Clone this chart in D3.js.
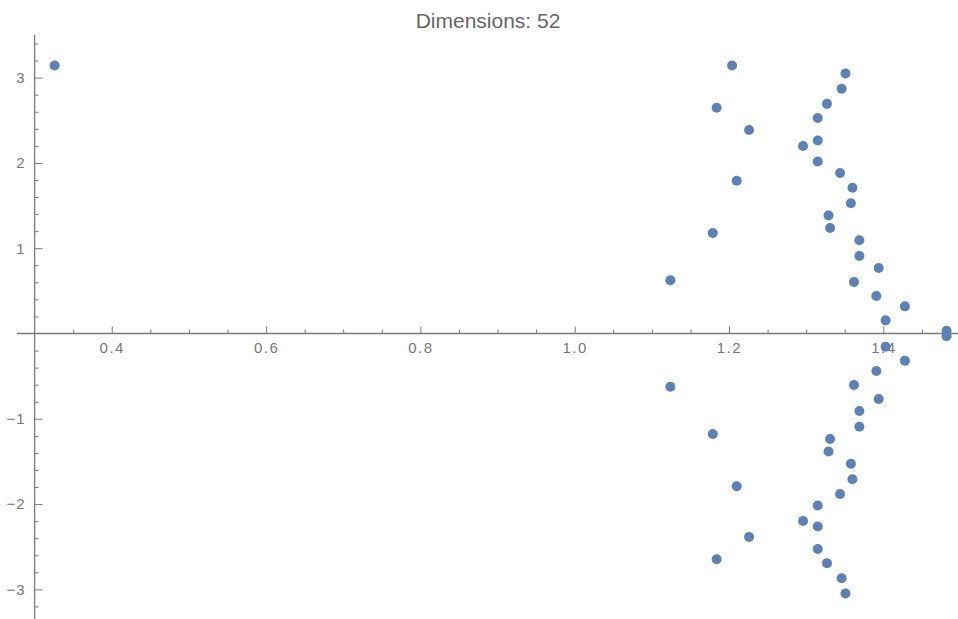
<!DOCTYPE html>
<html>
<head>
<meta charset="utf-8">
<script src="https://cdn.jsdelivr.net/npm/d3@7"></script>
<style>
  body { margin: 0; background: #fff; }
  svg { display: block; font-family: "Liberation Sans", Arial, sans-serif; }
</style>
</head>
<body>
<svg id="chart" width="958" height="619"></svg>
<script>
const title = 'Dimensions: 52'

// |lambda| and arg(lambda)
const magnitude = [
  0.326, 1.204,
  1.351, 1.346, 1.184, 1.327, 1.315, 1.226, 1.315, 1.296, 1.315, 1.344, 1.210, 1.360, 1.358,
  1.329, 1.331, 1.179, 1.369, 1.369, 1.394, 1.124, 1.362, 1.391, 1.428, 1.403, 1.482,
  1.351, 1.346, 1.184, 1.327, 1.315, 1.226, 1.315, 1.296, 1.315, 1.344, 1.210, 1.360, 1.358,
  1.329, 1.331, 1.179, 1.369, 1.369, 1.394, 1.124, 1.362, 1.391, 1.428, 1.403, 1.482
]
const phase = [
  3.142, 3.142,
  3.048, 2.870, 2.647, 2.692, 2.526, 2.386, 2.263, 2.198, 2.016, 1.882, 1.790, 1.708, 1.526,
  1.383, 1.237, 1.178, 1.094, 0.909, 0.768, 0.624, 0.604, 0.440, 0.318, 0.154, 0.033,
  -3.048, -2.870, -2.647, -2.692, -2.526, -2.386, -2.263, -2.198, -2.016, -1.882, -1.790, -1.708, -1.526,
  -1.383, -1.237, -1.178, -1.094, -0.909, -0.768, -0.624, -0.604, -0.440, -0.318, -0.154, -0.033
]

const xMajor = [0.4, 0.6, 0.8, 1.0, 1.2, 1.4]
const xMinor = [0.35, 0.45, 0.5, 0.55, 0.65, 0.7, 0.75, 0.85, 0.9, 0.95, 1.05, 1.1, 1.15, 1.25, 1.3, 1.35, 1.45]
const yMajor = [-3, -2, -1, 1, 2, 3]
const yMinor = [-3.4, -3.2, -2.8, -2.6, -2.4, -2.2, -1.8, -1.6, -1.4, -1.2, -0.8, -0.6, -0.4, -0.2,
  0.2, 0.4, 0.6, 0.8, 1.2, 1.4, 1.6, 1.8, 2.2, 2.4, 2.6, 2.8, 3.2, 3.4]

const axisColor = '#7a7a7a'
const labelColor = '#777'
const dotColor = '#5e81b5'

const svg = d3.select('#chart')

const x = d3.scaleLinear().domain([0.3, 1.4]).range([34.6, 883.3])
const y = d3.scaleLinear().domain([-3, 3]).range([589.4, 77.6])

const points = magnitude.map((m, i) => ({ m: m, a: phase[i] }))

// axes lines
svg.append('line')
  .attr('x1', x(0.277)).attr('x2', 958)
  .attr('y1', y(0)).attr('y2', y(0))
  .attr('stroke', axisColor).attr('stroke-width', 1.3)
svg.append('line')
  .attr('x1', x(0.3)).attr('x2', x(0.3))
  .attr('y1', y(3.5)).attr('y2', 619)
  .attr('stroke', axisColor).attr('stroke-width', 1.3)

// x ticks (pointing up)
const xAxisMinor = d3.axisBottom(x).tickValues(xMinor).tickSize(-4).tickSizeOuter(0).tickFormat('')
const xAxisMajor = d3.axisBottom(x).tickValues(xMajor).tickSize(-7).tickSizeOuter(0).tickFormat(d3.format('.1f'))

svg.append('g').attr('transform', `translate(0,${y(0)})`).call(xAxisMinor)
  .call(g => g.select('.domain').remove())
  .call(g => g.selectAll('.tick line').attr('stroke', axisColor))

svg.append('g').attr('transform', `translate(0,${y(0)})`).call(xAxisMajor)
  .call(g => g.select('.domain').remove())
  .call(g => g.selectAll('.tick line').attr('stroke', axisColor))
  .call(g => g.selectAll('.tick text')
    .attr('y', 9).attr('dy', '0.71em')
    .attr('fill', labelColor)
    .style('font-size', '15px')
    .style('letter-spacing', '1.5px'))

// y ticks (pointing right)
const yAxisMinor = d3.axisLeft(y).tickValues(yMinor).tickSize(-4).tickSizeOuter(0).tickFormat('')
const yAxisMajor = d3.axisLeft(y).tickValues(yMajor).tickSize(-8).tickSizeOuter(0).tickFormat(d3.format('d'))

svg.append('g').attr('transform', `translate(${x(0.3)},0)`).call(yAxisMinor)
  .call(g => g.select('.domain').remove())
  .call(g => g.selectAll('.tick line').attr('stroke', axisColor))

svg.append('g').attr('transform', `translate(${x(0.3)},0)`).call(yAxisMajor)
  .call(g => g.select('.domain').remove())
  .call(g => g.selectAll('.tick line').attr('stroke', axisColor))
  .call(g => g.selectAll('.tick text')
    .attr('x', -9)
    .attr('fill', labelColor)
    .style('font-size', '15px')
    .style('letter-spacing', '1px'))

// points
svg.append('g').selectAll('circle')
  .data(points)
  .join('circle')
  .attr('cx', d => x(d.m))
  .attr('cy', d => y(d.a))
  .attr('r', 5)
  .attr('fill', dotColor)

// title
svg.append('text')
  .attr('x', 488).attr('y', 28)
  .attr('text-anchor', 'middle')
  .attr('fill', '#666')
  .style('font-size', '21px')
  .text(title)
</script>
</body>
</html>
